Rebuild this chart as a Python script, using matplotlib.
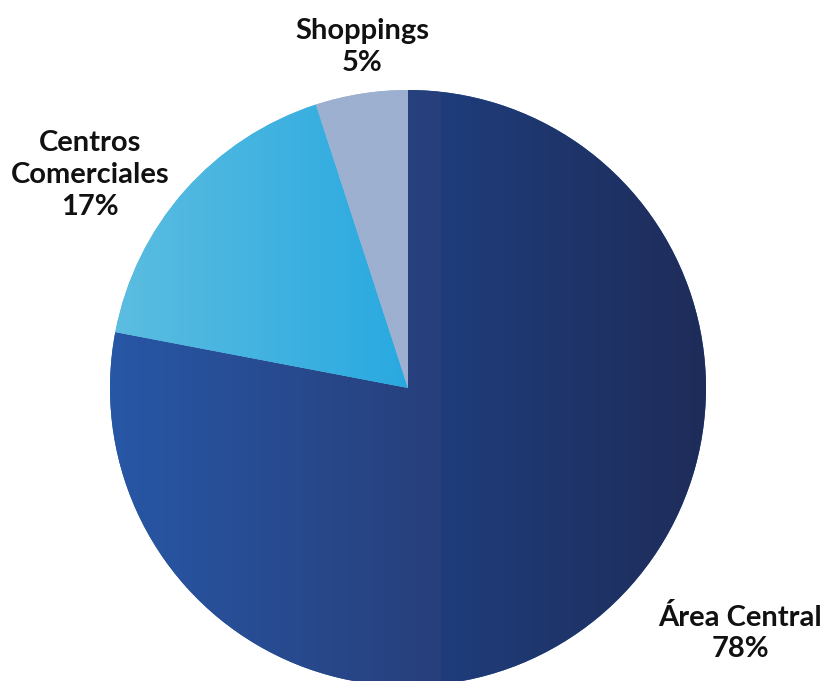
import numpy as np
import matplotlib.pyplot as plt
from matplotlib.colors import LinearSegmentedColormap

# Share by zone (clockwise from 12 o'clock)
zones = ["Área Central", "Centros\nComerciales", "Shoppings"]
shares = [78, 17, 5]

# gradient stops per slice (left -> right)
gradients = [
    [(0.0, "#2857a6"), (0.554, "#273f7b"), (0.554, "#1e3d7b"), (1.0, "#1f2c59")],
    [(0.0, "#5cbde1"), (1.0, "#29a9e0")],
    [(0.0, "#9db0d0"), (1.0, "#9db0d0")],
]

# label anchors in data units (radius = 1)
label_pos = [(1.114, -0.822), (-1.067, 0.715), (-0.154, 1.144)]

plt.rcParams['font.family'] = ['Lato', 'DejaVu Sans']

fig = plt.figure(figsize=(8.22, 6.81), dpi=100)
ax = fig.add_axes([0, 0, 1, 1])

wedges, _ = ax.pie(shares, startangle=90, counterclock=False,
                   colors=[g[0][1] for g in gradients],
                   wedgeprops=dict(linewidth=0))

# paint each wedge with a horizontal gradient clipped to its shape
grad = np.linspace(0, 1, 512)[None, :]
for w, stops in zip(wedges, gradients):
    bb = w.get_path().get_extents()
    cmap = LinearSegmentedColormap.from_list("g", stops, N=512)
    im = ax.imshow(grad, cmap=cmap, aspect="auto", interpolation="bilinear",
                   extent=(bb.x0, bb.x1, bb.y0, bb.y1), zorder=w.get_zorder() + 0.1)
    im.set_clip_path(w)

for name, val, (x, y) in zip(zones, shares, label_pos):
    ax.text(x, y, f"{name}\n{val}%", ha="center", va="center",
            fontsize=21, fontweight="bold", color="#111111", linespacing=1.27)

ax.set_xlim(-408 / 298, (822 - 408) / 298)
ax.set_ylim(-(681 - 388) / 298, 388 / 298)
ax.set_aspect("equal")
ax.axis("off")

fig.savefig("out.png", dpi=100)
